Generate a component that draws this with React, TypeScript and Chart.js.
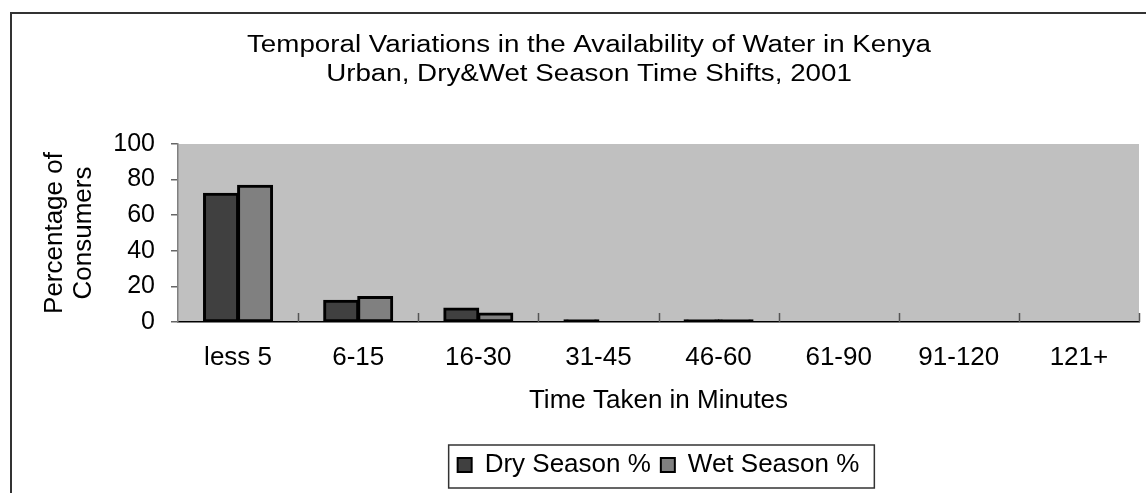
import { useEffect, useRef } from 'react';
import { Chart, registerables } from 'chart.js';

Chart.register(...registerables);

const CATEGORIES = ['less 5', '6-15', '16-30', '31-45', '46-60', '61-90', '91-120', '121+'];
const DRY_SEASON = [72, 12, 7.6, 1, 1, 0, 0, 0];
const WET_SEASON = [76.5, 14, 4.8, 0, 1, 0, 0, 0];
const SERIES_LABELS = ['Dry Season %', 'Wet Season %'];
const TITLE_LINES = [
  'Temporal Variations in the Availability of Water in Kenya',
  'Urban, Dry&Wet Season Time Shifts, 2001',
];
const Y_TITLE = ['Percentage of', 'Consumers'];
const X_TITLE = 'Time Taken in Minutes';
const Y_MIN = 0;
const Y_MAX = 100;
const Y_STEP = 20;

const FONT = '"Liberation Sans", Arial, Helvetica, sans-serif';
const W = 1146;
const H = 493;
const DRY_COLOR = '#404040';
const WET_COLOR = '#808080';

const decorPlugin = {
  id: 'decor',
  beforeDraw(chart: any) {
    const { ctx, chartArea: a } = chart;
    ctx.save();
    ctx.strokeStyle = '#333333';
    ctx.lineWidth = 2;
    ctx.strokeRect(11, 13, chart.width + 20, chart.height + 20);
    ctx.fillStyle = '#c0c0c0';
    ctx.fillRect(a.left, a.top, a.right - a.left, a.bottom - a.top);
    ctx.restore();
  },
  afterDatasetsDraw(chart: any) {
    const { ctx, chartArea: a } = chart;
    const xs = chart.scales.x;
    const n = CATEGORIES.length;
    const step = xs.getPixelForValue(1) - xs.getPixelForValue(0);
    ctx.save();
    ctx.strokeStyle = '#555555';
    ctx.lineWidth = 1.5;
    for (let i = 1; i <= n; i++) {
      const x = Math.round(xs.getPixelForValue(i) - step / 2) + 0.5;
      ctx.beginPath();
      ctx.moveTo(x, a.bottom - 9);
      ctx.lineTo(x, a.bottom);
      ctx.stroke();
    }
    ctx.restore();
  },
  afterDraw(chart: any) {
    const { ctx } = chart;
    ctx.save();
    ctx.font = `23px ${FONT}`;
    ctx.fillStyle = '#000';
    ctx.textAlign = 'center';
    ctx.textBaseline = 'alphabetic';
    const w1 = ctx.measureText(TITLE_LINES[0]).width;
    const sx = 684 / w1;
    ctx.translate(589, 0);
    ctx.scale(sx, 1);
    ctx.fillText(TITLE_LINES[0], 0, 51.5);
    ctx.fillText(TITLE_LINES[1], 0, 81);
    ctx.restore();

    const lg = chart.legend;
    if (lg && lg.legendHitBoxes && lg.legendHitBoxes.length) {
      const hb = lg.legendHitBoxes;
      const first = hb[0];
      const last = hb[hb.length - 1];
      const left = first.left - 9;
      const right = last.left + last.width + 15;
      const top = lg.top + 3;
      const bottom = lg.bottom;
      ctx.save();
      ctx.strokeStyle = '#333333';
      ctx.lineWidth = 1.5;
      ctx.strokeRect(left, top, right - left, bottom - top);
      ctx.restore();
    }
  },
};

export default function App() {
  const ref = useRef<HTMLCanvasElement | null>(null);

  useEffect(() => {
    if (!ref.current) return;
    const inflate = (c: any) => (c.raw ? 1 : 0);
    const fill = (base: string) => (c: any) =>
      c.raw !== undefined && c.raw > 0 && c.raw < 2 ? '#000000' : base;
    const chart = new Chart(ref.current, {
      type: 'bar',
      data: {
        labels: CATEGORIES,
        datasets: [
          {
            label: SERIES_LABELS[0],
            data: DRY_SEASON,
            backgroundColor: fill(DRY_COLOR),
            borderColor: '#000000',
            borderWidth: 3,
            borderSkipped: false,
            inflateAmount: inflate,
            categoryPercentage: 0.5667,
            barPercentage: 1,
          } as any,
          {
            label: SERIES_LABELS[1],
            data: WET_SEASON,
            backgroundColor: fill(WET_COLOR),
            borderColor: '#000000',
            borderWidth: 3,
            borderSkipped: false,
            inflateAmount: inflate,
            categoryPercentage: 0.5667,
            barPercentage: 1,
          } as any,
        ],
      },
      options: {
        responsive: false,
        animation: false,
        devicePixelRatio: 1,
        layout: { padding: { left: 0, right: 7, top: 144, bottom: 5 } },
        plugins: {
          legend: {
            position: 'bottom',
            fullSize: false,
            align: 'center',
            labels: {
              font: { family: FONT, size: 26 },
              color: '#000',
              boxWidth: 14,
              boxHeight: 14,
              padding: 10,
              generateLabels: (ch: any) =>
                ch.data.datasets.map((ds: any, i: number) => ({
                  text: ds.label,
                  fillStyle: i === 0 ? DRY_COLOR : WET_COLOR,
                  strokeStyle: '#000000',
                  lineWidth: 2,
                  hidden: false,
                  datasetIndex: i,
                  fontColor: '#000',
                })),
            },
          },
          title: { display: false },
          tooltip: { enabled: false },
        },
        scales: {
          x: {
            offset: true,
            grid: { display: true, drawOnChartArea: false, drawTicks: false, offset: true },
            border: { display: true, color: '#000', width: 1.5 },
            ticks: {
              font: { family: FONT, size: 26 },
              color: '#000',
              padding: 20,
              maxRotation: 0,
              autoSkip: false,
            },
            title: {
              display: true,
              text: X_TITLE,
              font: { family: FONT, size: 26 },
              color: '#000',
              padding: { top: 0, bottom: 26 },
            },
            afterFit: (s: any) => {
              s.height = 120;
            },
          },
          y: {
            min: Y_MIN,
            max: Y_MAX,
            ticks: {
              stepSize: Y_STEP,
              font: { family: FONT, size: 25 },
              color: '#000',
              padding: 16,
            },
            grid: {
              drawOnChartArea: false,
              drawTicks: true,
              tickLength: 7,
              color: '#666666',
              lineWidth: 1.5,
            },
            border: { display: true, color: '#808080', width: 1.5 },
            title: {
              display: true,
              text: Y_TITLE,
              font: { family: FONT, size: 26, lineHeight: 1.115 },
              color: '#000',
              padding: { top: 40, bottom: 0 },
            },
            afterFit: (s: any) => {
              s.width = 178;
            },
          },
        },
      } as any,
      plugins: [decorPlugin],
    });
    return () => chart.destroy();
  }, []);

  return (
    <div style={{ position: 'absolute', left: 0, top: 0, width: W, height: H, background: '#fff' }}>
      <canvas ref={ref} width={W} height={H} style={{ display: 'block', width: W, height: H }} />
    </div>
  );
}
